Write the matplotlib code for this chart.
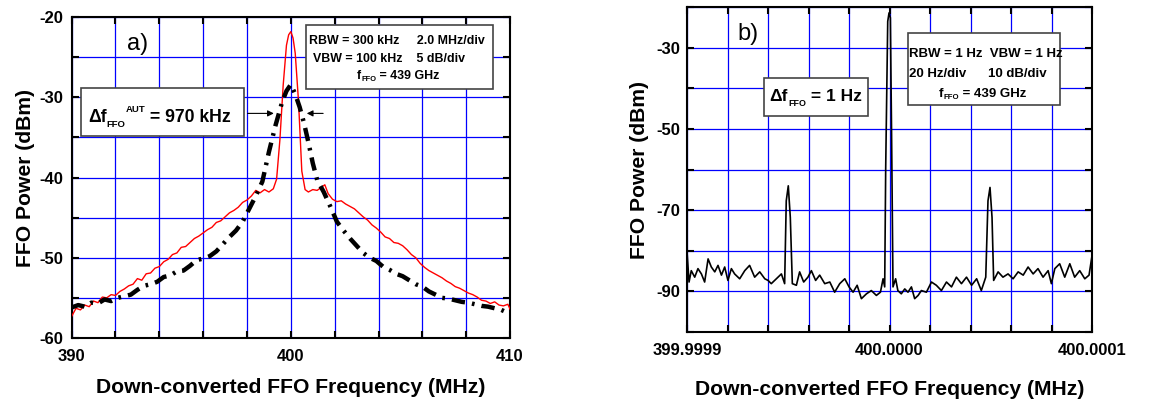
import numpy as np
import matplotlib.pyplot as plt
from matplotlib.patches import Rectangle
from matplotlib.ticker import MultipleLocator, FixedLocator
from matplotlib.transforms import offset_copy

plt.rcParams['font.family'] = ['Liberation Sans', 'DejaVu Sans']
plt.rcParams['axes.unicode_minus'] = False

# panel a) - autonomous FFO (red) vs ... (black dash-dot), MHz / dBm
freq_a_red = [390.0, 390.2, 390.4, 390.6, 390.8, 391.0, 391.2, 391.4, 391.6, 391.8,
              392.0, 392.2, 392.4, 392.6, 392.8, 393.0, 393.2, 393.4, 393.6, 393.8,
              394.0, 394.2, 394.4, 394.6, 394.8, 395.0, 395.2, 395.4, 395.6, 395.8,
              396.0, 396.2, 396.4, 396.6, 396.8, 397.0, 397.2, 397.4, 397.6, 397.8,
              398.0, 398.2, 398.4, 398.6, 398.8, 399.0, 399.2, 399.35, 399.5, 399.65,
              399.8, 399.9, 400.0, 400.1, 400.2, 400.35, 400.5, 400.65, 400.8, 401.0,
              401.2, 401.4, 401.55, 401.7, 401.9, 402.1, 402.3, 402.5, 402.7, 402.9,
              403.1, 403.3, 403.5, 403.7, 403.9, 404.1, 404.3, 404.5, 404.7, 404.9,
              405.1, 405.3, 405.5, 405.7, 405.9, 406.1, 406.3, 406.5, 406.7, 406.9,
              407.1, 407.3, 407.5, 407.7, 407.9, 408.1, 408.3, 408.5, 408.7, 408.9,
              409.1, 409.3, 409.5, 409.7, 409.9, 410.0]
power_a_red = [-57.3, -56.3, -56.5, -55.9, -56.1, -55.4, -55.6, -54.9, -55.0, -54.6,
               -54.7, -54.2, -53.9, -53.5, -53.3, -52.6, -52.8, -52.0, -51.9, -51.3,
               -51.1, -50.5, -50.2, -49.6, -49.4, -48.7, -48.6, -48.1, -47.6, -47.3,
               -46.9, -46.5, -46.2, -45.6, -45.4, -44.9, -44.4, -44.1, -43.7, -43.1,
               -42.8, -42.3, -41.6, -41.9, -41.5, -41.8, -41.4, -40.2, -35.3, -28.5,
               -23.5, -22.2, -21.8, -22.6, -24.5, -30.5, -39.2, -41.5, -41.8, -41.5,
               -41.6, -41.2, -40.9, -42.0, -42.7, -43.0, -42.9, -43.3, -43.6, -43.9,
               -44.4, -44.9, -45.3, -45.9, -46.3, -46.8, -47.4, -47.6, -48.1, -48.2,
               -48.5, -49.0, -49.6, -50.0, -50.7, -51.2, -51.6, -51.9, -52.2, -52.5,
               -52.9, -53.2, -53.6, -53.8, -54.1, -54.4, -54.6, -54.9, -55.3, -55.4,
               -55.7, -55.5, -55.9, -56.0, -55.8, -56.4]

freq_a_blk = [390.0, 390.3, 390.6, 390.9, 391.2, 391.5, 391.8, 392.1, 392.4, 392.7,
              393.0, 393.3, 393.6, 393.9, 394.2, 394.5, 394.8, 395.1, 395.4, 395.7,
              396.0, 396.3, 396.6, 396.9, 397.2, 397.5, 397.8, 398.1, 398.4, 398.7,
              399.0, 399.3, 399.6, 399.8, 400.0, 400.2, 400.4, 400.6, 400.8, 401.0,
              401.2, 401.5, 401.8, 402.1, 402.4, 402.7, 403.0, 403.3, 403.6, 403.9,
              404.2, 404.5, 404.8, 405.1, 405.4, 405.7, 406.0, 406.3, 406.6, 406.9,
              407.2, 407.5, 407.8, 408.1, 408.4, 408.7, 409.0, 409.3, 409.6, 410.0]
power_a_blk = [-56.2, -55.9, -56.1, -55.6, -55.7, -55.2, -55.4, -55.0, -54.8, -54.6,
               -54.0, -53.5, -53.3, -53.0, -52.4, -52.2, -51.7, -51.6, -51.0, -50.3,
               -50.1, -49.8, -49.2, -48.3, -47.4, -46.6, -45.5, -43.9, -42.3, -40.5,
               -36.8, -33.5, -30.6, -29.2, -28.4, -29.6, -31.2, -33.2, -35.6, -38.2,
               -40.3, -41.8, -43.6, -45.5, -46.6, -47.6, -48.5, -49.4, -50.0, -50.4,
               -51.1, -51.5, -52.0, -52.3, -52.8, -53.3, -53.6, -54.2, -54.6, -55.0,
               -55.1, -55.3, -55.5, -55.6, -55.8, -56.0, -56.1, -56.3, -56.5, -57.0]

# panel b) - phase locked FFO, offset from 400 MHz in Hz
offset_b_hz = [-100, -99, -97.9, -96.2, -94.6, -92.9, -91.3, -89.6, -88, -86.3,
               -84.7, -83, -81.4, -79.8, -78.1, -76.5, -74, -71.5, -69.1, -66.6,
               -64.1, -61.6, -60, -58.4, -55.9, -53.4, -51.8, -51, -50, -49,
               -48, -46, -44.4, -42.4, -40.3, -38.6, -36.5, -34.5, -32, -29.5,
               -27.1, -24.6, -22.1, -20, -18, -16, -13.9, -11.4, -9, -6.5,
               -4.5, -3.2, -2.4, -1.9, -0.9, -0.25, 0.4, 1.0, 1.7, 3,
               4.1, 5.8, 7.5, 9.1, 10.8, 12.4, 14.1, 15.7, 18.2, 20.7,
               23.1, 25.6, 28.1, 30.6, 33, 35.5, 38, 40.5, 43, 45.3,
               47.5, 48.6, 49.6, 50.6, 51.4, 53.6, 56, 58.5, 61, 63.5,
               66, 68.4, 70.9, 73.3, 75.8, 78.3, 79.9, 81.6, 84, 86.5,
               89, 91.4, 93.9, 96.4, 98.5, 100]
power_b = [-80.3, -87.7, -84.9, -86.5, -84.4, -85.7, -87.7, -82.0, -84.0, -85.2,
           -83.6, -86.0, -84.0, -87.3, -84.4, -85.7, -86.9, -84.9, -83.6, -86.5,
           -85.2, -86.9, -87.3, -88.1, -86.9, -85.7, -88.1, -67.7, -64.0, -71.8,
           -88.1, -88.5, -85.2, -87.7, -86.5, -84.9, -87.3, -86.0, -88.1, -87.7,
           -90.2, -88.1, -86.9, -88.9, -90.2, -88.5, -91.8, -90.6, -89.8, -91.0,
           -90.2, -86.9, -88.9, -59.5, -23.5, -21.4, -22.6, -51.3, -88.9, -86.9,
           -89.8, -90.6, -89.4, -90.2, -88.9, -91.8, -91.0, -89.8, -90.2, -87.7,
           -88.5, -89.8, -87.7, -88.9, -86.5, -88.1, -86.5, -88.5, -86.9, -89.8,
           -86.5, -67.7, -64.4, -71.8, -87.3, -85.2, -86.5, -85.7, -86.9, -85.2,
           -86.0, -84.0, -85.7, -84.4, -86.5, -84.9, -88.1, -84.4, -83.2, -86.5,
           -83.2, -86.5, -84.9, -86.9, -86.0, -81.1]

xticks_b = [-100, 0, 100]
xticklabels_b = ['399.9999', '400.0000', '400.0001']
yticks_b = [-30, -50, -70, -90]

GRID = '#0000ff'


def style_axes(ax):
    for s in ax.spines.values():
        s.set_linewidth(1.5)
    ax.set_axisbelow(True)
    ax.grid(True, which='both', color=GRID, linewidth=0.9)
    ax.tick_params(which='both', direction='in', top=True, right=True,
                   width=1.5, length=5, labelsize=12)
    for lab in ax.get_xticklabels() + ax.get_yticklabels():
        lab.set_fontweight('bold')


def rich_text(ax, x, y, runs, ha='left'):
    # runs: (text, fontsize, baseline shift in points)
    rend = fig.canvas.get_renderer()
    objs, dx = [], 0.0
    for s, size, rise in runs:
        tr = offset_copy(ax.transData, fig=fig, x=dx, y=rise * fig.dpi / 72,
                         units='dots')
        t = ax.text(x, y, s, fontsize=size, fontweight='bold',
                    va='baseline', ha='left', transform=tr, zorder=6)
        w = t.get_window_extent(rend).width
        objs.append((t, dx, rise))
        dx += w
    if ha == 'center':
        for t, d, rise in objs:
            t.set_transform(offset_copy(ax.transData, fig=fig, x=d - dx / 2,
                                        y=rise * fig.dpi / 72, units='dots'))


fig = plt.figure(figsize=(11.69, 3.99), dpi=100)

# ---- panel a
ax1 = fig.add_axes([0.0613, 0.153, 0.375, 0.804])
ax1.plot(freq_a_red, power_a_red, color='red', lw=1.0, zorder=3)
ax1.plot(freq_a_blk, power_a_blk, color='black', lw=3.2,
         linestyle=(0, (3, 1.6, 0.6, 1.6)), zorder=4)
ax1.set_xlim(390, 410)
ax1.set_ylim(-60, -20)
ax1.xaxis.set_major_locator(FixedLocator([390, 400, 410]))
ax1.xaxis.set_minor_locator(MultipleLocator(2))
ax1.yaxis.set_major_locator(MultipleLocator(10))
ax1.yaxis.set_minor_locator(MultipleLocator(5))
ax1.tick_params(axis='x', pad=8)
ax1.tick_params(axis='y', pad=6)
style_axes(ax1)
ax1.set_xlabel('Down-converted FFO Frequency (MHz)', fontsize=15.2,
               fontweight='bold', labelpad=10)
ax1.set_ylabel('FFO Power (dBm)', fontsize=15.2, fontweight='bold', labelpad=3)

ax1.text(393.0, -23.3, 'a)', fontsize=17, ha='center', va='center')

ax1.add_patch(Rectangle((400.68, -28.97), 8.53, 7.93, facecolor='white',
                        edgecolor='#444444', lw=1.2, zorder=5))
ax1.text(400.85, -23.3, 'RBW = 300 kHz     2.0 MHz/div', fontsize=8.9,
         fontweight='bold', va='baseline', zorder=6)
ax1.text(401.0, -25.55, 'VBW = 100 kHz    5 dB/div', fontsize=8.9,
         fontweight='bold', va='baseline', zorder=6)
rich_text(ax1, 404.9, -27.7, [('f', 8.9, 0), ('FFO', 5.4, -1.5),
                              (' = 439 GHz', 8.9, 0)], ha='center')

ax1.add_patch(Rectangle((390.43, -34.78), 7.45, 5.93, facecolor='white',
                        edgecolor='#444444', lw=1.2, zorder=5))
rich_text(ax1, 390.75, -33.05, [('\u0394f', 12.7, 0), ('FFO', 6.8, -3.6),
                                ('AUT', 6.8, 7.4), (' = 970 kHz', 12.7, 0)])

ax1.annotate('', xy=(399.35, -32.0), xytext=(397.9, -32.0),
             arrowprops=dict(arrowstyle='-|>', color='black', lw=0.8,
                             mutation_scale=9), zorder=6)
ax1.annotate('', xy=(400.6, -32.0), xytext=(401.6, -32.0),
             arrowprops=dict(arrowstyle='-|>', color='black', lw=0.8,
                             mutation_scale=9), zorder=6)

# ---- panel b
ax2 = fig.add_axes([0.5877, 0.168, 0.3465, 0.814])
ax2.plot(offset_b_hz, power_b, color='black', lw=1.2, zorder=3)
ax2.set_xlim(-100, 100)
ax2.set_ylim(-100, -20)
ax2.xaxis.set_major_locator(FixedLocator(xticks_b))
ax2.xaxis.set_minor_locator(MultipleLocator(20))
ax2.set_xticklabels(xticklabels_b)
ax2.yaxis.set_major_locator(FixedLocator(yticks_b))
ax2.yaxis.set_minor_locator(MultipleLocator(10))
ax2.tick_params(axis='x', pad=8)
ax2.tick_params(axis='y', pad=5)
style_axes(ax2)
ax2.set_xlabel('Down-converted FFO Frequency (MHz)', fontsize=15.2,
               fontweight='bold', labelpad=16)
ax2.set_ylabel('FFO Power (dBm)', fontsize=15.2, fontweight='bold', labelpad=5)

ax2.text(-70, -26.5, 'b)', fontsize=17, ha='center', va='center')

ax2.add_patch(Rectangle((-62.0, -46.8), 51.2, 9.4, facecolor='white',
                        edgecolor='#444444', lw=1.2, zorder=5))
rich_text(ax2, -36.5, -43.2, [('\u0394f', 12.5, 0), ('FFO', 6.4, -3.4),
                              (' = 1 Hz', 12.5, 0)], ha='center')

ax2.add_patch(Rectangle((9.0, -44.1), 75.2, 17.7, facecolor='white',
                        edgecolor='#444444', lw=1.2, zorder=5))
ax2.text(9.5, -32.3, 'RBW = 1 Hz  VBW = 1 Hz', fontsize=9.5,
         fontweight='bold', va='baseline', zorder=6)
ax2.text(9.5, -37.2, '20 Hz/div      10 dB/div', fontsize=9.5,
         fontweight='bold', va='baseline', zorder=6)
rich_text(ax2, 46, -42.1, [('f', 9.5, 0), ('FFO', 5.6, -1.5),
                           (' = 439 GHz', 9.5, 0)], ha='center')

fig.savefig('out.png', dpi=100)
